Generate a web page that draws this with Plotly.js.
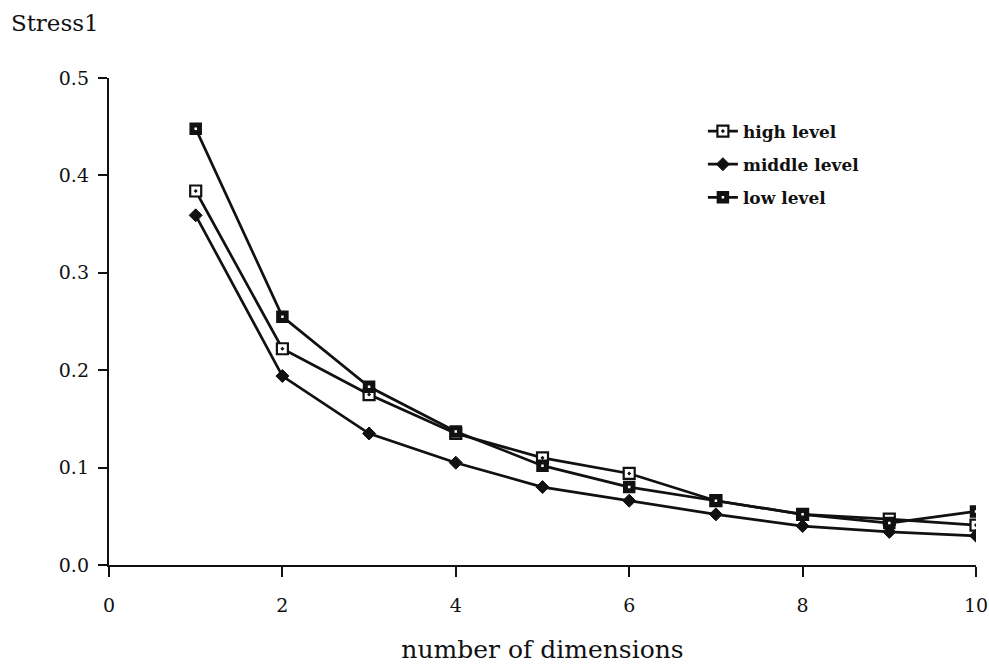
<!DOCTYPE html>
<html>
<head>
<meta charset="utf-8">
<script src="https://cdn.plot.ly/plotly-3.0.1.min.js"></script>
<style>
  html, body { margin: 0; padding: 0; background: #fff; }
  #chart { width: 989px; height: 666px; }
</style>
</head>
<body>
<div id="chart"></div>
<script>
// Stress1 of the MDS solution by number of dimensions, per level
const dimensions = [1, 2, 3, 4, 5, 6, 7, 8, 9, 10];
const highLevel   = [0.384, 0.222, 0.175, 0.135, 0.110, 0.094, 0.066, 0.052, 0.047, 0.041];
const middleLevel = [0.359, 0.194, 0.135, 0.105, 0.080, 0.066, 0.052, 0.040, 0.034, 0.030];
const lowLevel    = [0.448, 0.255, 0.183, 0.137, 0.102, 0.080, 0.066, 0.052, 0.043, 0.055];
const seriesNames = ['high level', 'middle level', 'low level'];
const xTicks = [0, 2, 4, 6, 8, 10];
const yTicks = [0.0, 0.1, 0.2, 0.3, 0.4, 0.5];

const serif = 'DejaVu Serif, Liberation Serif, serif';
const ink = '#111';

const traces = [
  {
    x: dimensions, y: highLevel, name: seriesNames[0], legendgroup: 'a',
    mode: 'lines+markers', type: 'scatter',
    line: { color: ink, width: 2.7 },
    marker: { symbol: 'square-dot', size: 11, color: '#fff', line: { color: ink, width: 2.2 } }
  },
  {
    x: dimensions, y: middleLevel, name: seriesNames[1], legendgroup: 'b',
    mode: 'lines+markers', type: 'scatter',
    line: { color: ink, width: 2.7 },
    marker: { symbol: 'diamond', size: 10, color: ink, line: { color: ink, width: 1 } }
  },
  {
    x: dimensions, y: lowLevel, name: seriesNames[2], legendgroup: 'c',
    mode: 'lines+markers', type: 'scatter',
    line: { color: ink, width: 2.7 },
    marker: { symbol: 'square', size: 7.5, color: '#fff', line: { color: ink, width: 5 } }
  }
];

const layout = {
  width: 989, height: 666,
  margin: { l: 109, r: 13, t: 78, b: 101 },
  paper_bgcolor: '#fff', plot_bgcolor: '#fff',
  font: { family: serif, color: ink },
  title: {
    text: 'Stress1',
    xref: 'container', yref: 'container',
    x: 0.011, xanchor: 'left', y: 0.978, yanchor: 'top',
    font: { family: serif, size: 23, color: ink }
  },
  xaxis: {
    range: [0, 10], tickvals: xTicks, ticktext: xTicks.map(String),
    showgrid: false, zeroline: false,
    showline: true, linecolor: ink, linewidth: 2.2,
    ticks: 'outside', ticklen: 10, tickwidth: 2, tickcolor: ink,
    ticklabelstandoff: 12,
    tickfont: { family: serif, size: 19, color: ink },
    title: { text: 'number of dimensions', standoff: 26,
             font: { family: serif, size: 25, color: ink } }
  },
  yaxis: {
    range: [0, 0.5], tickvals: yTicks, ticktext: yTicks.map(v => v.toFixed(1)),
    showgrid: false, zeroline: false,
    showline: true, linecolor: ink, linewidth: 2.2,
    ticks: 'outside', ticklen: 9, tickwidth: 2, tickcolor: ink,
    ticklabelstandoff: 5,
    tickfont: { family: serif, size: 19, color: ink }
  },
  showlegend: true,
  legend: {
    x: 0.685, y: 0.927, xanchor: 'left', yanchor: 'top',
    traceorder: 'grouped', tracegroupgap: 8,
    itemwidth: 30,
    bgcolor: 'rgba(0,0,0,0)',
    font: { family: serif, size: 17, color: ink, weight: 'bold' }
  }
};

Plotly.newPlot('chart', traces, layout, { displayModeBar: false, staticPlot: true });
</script>
</body>
</html>
